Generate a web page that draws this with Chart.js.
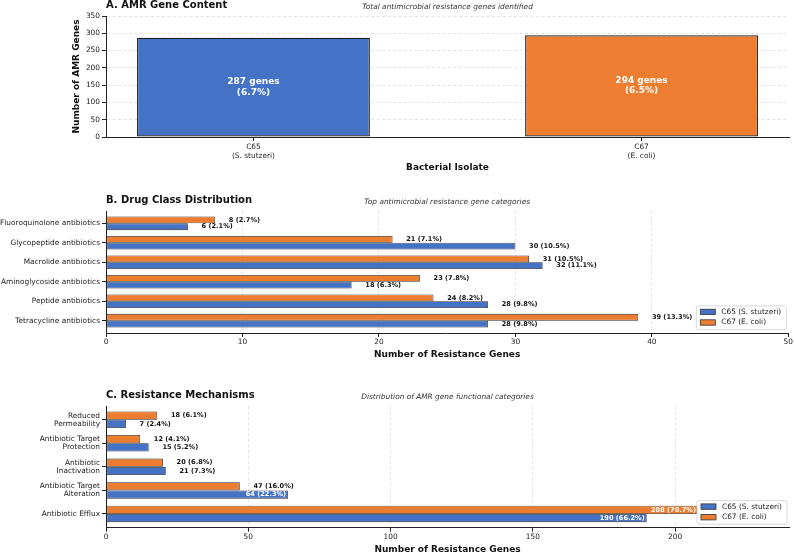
<!DOCTYPE html>
<html lang="en">
<head>
  <meta charset="UTF-8" />
  <title>AMR Gene Content, Drug Classes and Mechanisms</title>
  <style>
    html, body { margin: 0; padding: 0; background: #fff; overflow: hidden; }
    body { width: 794px; height: 554px; position: relative; }
    canvas { position: absolute; left: 0; }
    #chartA { top: 0; }
    #chartB { top: 182px; }
    #chartC { top: 372px; }
  </style>
  <script src="https://cdn.jsdelivr.net/npm/chart.js"></script>
</head>
<body>
  <canvas id="chartA" width="794" height="182"></canvas>
  <canvas id="chartB" width="794" height="190"></canvas>
  <canvas id="chartC" width="794" height="190"></canvas>

  <script>
    // ---- data ----
    const isolates = [['C65', '(S. stutzeri)'], ['C67', '(E. coli)']];
    const seriesNames = ['C65 (S. stutzeri)', 'C67 (E. coli)'];
    const totalGenes = [287, 294];
    const totalPct = [6.7, 6.5];
    const amrTicks = [0, 50, 100, 150, 200, 250, 300, 350];

    const drugClasses = [
      'Fluoroquinolone antibiotics', 'Glycopeptide antibiotics', 'Macrolide antibiotics',
      'Aminoglycoside antibiotics', 'Peptide antibiotics', 'Tetracycline antibiotics'
    ];
    const drugC65 = [6, 30, 32, 18, 28, 28];
    const drugC65Pct = [2.1, 10.5, 11.1, 6.3, 9.8, 9.8];
    const drugC67 = [8, 21, 31, 23, 24, 39];
    const drugC67Pct = [2.7, 7.1, 10.5, 7.8, 8.2, 13.3];
    const drugTicks = [0, 10, 20, 30, 40, 50];

    const mechanisms = [
      ['Reduced', 'Permeability'], ['Antibiotic Target', 'Protection'], ['Antibiotic', 'Inactivation'],
      ['Antibiotic Target', 'Alteration'], 'Antibiotic Efflux'
    ];
    const mechC65 = [7, 15, 21, 64, 190];
    const mechC65Pct = [2.4, 5.2, 7.3, 22.3, 66.2];
    const mechC67 = [18, 12, 20, 47, 208];
    const mechC67Pct = [6.1, 4.1, 6.8, 16.0, 70.7];
    const mechTicks = [0, 50, 100, 150, 200];

    const BLUE = '#4472C4', ORANGE = '#ED7D31';
    const GRID = 'rgba(0,0,0,0.11)';
    const FONT = "'DejaVu Sans', sans-serif";

    Chart.defaults.font.family = FONT;
    Chart.defaults.color = '#222';
    Chart.defaults.animation = false;
    Chart.defaults.plugins.legend.display = false;
    Chart.defaults.plugins.tooltip.enabled = false;

    // replace generated ticks with a fixed list
    const fixTicks = arr => scale => { scale.ticks = arr.map(v => ({ value: v })); };
    // no grid line on the plot's outer edge
    const gridColor = edge => c => (c.tick && c.tick.value === edge ? 'rgba(0,0,0,0)' : GRID);

    // panel title (left) and italic subtitle (centre)
    const panelTitle = {
      id: 'panelTitle',
      afterDraw(chart, args, o) {
        const { ctx, chartArea: a } = chart;
        ctx.save();
        ctx.textBaseline = 'middle';
        ctx.fillStyle = '#111';
        ctx.font = 'bold 10px ' + FONT;
        ctx.textAlign = 'left';
        ctx.fillText(o.title, a.left, a.top - 11);
        ctx.fillStyle = '#333';
        ctx.font = 'italic 7.4px ' + FONT;
        ctx.textAlign = 'center';
        ctx.fillText(o.subtitle, (a.left + a.right) / 2, a.top - 8.5);
        ctx.restore();
      }
    };

    // "287 genes (6.7%)" inside the panel A bars
    const totalLabels = {
      id: 'totalLabels',
      afterDatasetsDraw(chart) {
        const ctx = chart.ctx;
        ctx.save();
        ctx.font = 'bold 9px ' + FONT;
        ctx.fillStyle = '#fff';
        ctx.textAlign = 'center';
        ctx.textBaseline = 'middle';
        chart.getDatasetMeta(0).data.forEach((bar, i) => {
          const cy = (bar.y + bar.base) / 2;
          ctx.fillText(totalGenes[i] + ' genes', bar.x, cy - 5.2);
          ctx.fillText('(' + totalPct[i].toFixed(1) + '%)', bar.x, cy + 5.2);
        });
        ctx.restore();
      }
    };

    // "n (p%)" next to (or inside) each horizontal bar
    const hBarLabels = {
      id: 'hBarLabels',
      afterDatasetsDraw(chart, args, o) {
        const ctx = chart.ctx;
        ctx.save();
        ctx.font = 'bold 6.6px ' + FONT;
        ctx.textBaseline = 'middle';
        chart.data.datasets.forEach((ds, di) => {
          chart.getDatasetMeta(di).data.forEach((bar, i) => {
            const v = ds.data[i].x;
            const txt = v + ' (' + ds.pct[i].toFixed(1) + '%)';
            if (v > o.insideAbove) {
              ctx.fillStyle = '#fff';
              ctx.textAlign = 'right';
              ctx.fillText(txt, bar.x - 2, bar.y);
            } else {
              ctx.fillStyle = '#111';
              ctx.textAlign = 'left';
              ctx.fillText(txt, bar.x + 13.7, bar.y);
            }
          });
        });
        ctx.restore();
      }
    };

    // boxed legend in the lower right corner of the plot
    const boxLegend = {
      id: 'boxLegend',
      afterDraw(chart) {
        const { ctx, chartArea: a } = chart;
        const w = 90, h = 23.6;
        const x = a.right - w - 2, y = a.bottom - h - 3.5;
        ctx.save();
        ctx.fillStyle = 'rgba(255,255,255,0.9)';
        ctx.strokeStyle = '#d0d0d0';
        ctx.lineWidth = 0.8;
        ctx.beginPath();
        if (ctx.roundRect) ctx.roundRect(x, y, w, h, 2); else ctx.rect(x, y, w, h);
        ctx.fill();
        ctx.stroke();
        ctx.font = '7.4px ' + FONT;
        ctx.textBaseline = 'middle';
        ctx.textAlign = 'left';
        // datasets are stored C67 first (top bar), legend lists C65 first
        [...chart.data.datasets].reverse().forEach((ds, k) => {
          const cy = y + 6 + k * 10.6;
          ctx.fillStyle = ds.backgroundColor;
          ctx.fillRect(x + 4, cy - 2.7, 15, 5.4);
          ctx.strokeStyle = '#333';
          ctx.strokeRect(x + 4, cy - 2.7, 15, 5.4);
          ctx.fillStyle = '#222';
          ctx.fillText(ds.label, x + 25, cy);
        });
        ctx.restore();
      }
    };

    const tickFont = { size: 7.4 };
    const axisTitleFont = { size: 9, weight: 'bold' };

    // ---- A. AMR Gene Content ----
    new Chart(document.getElementById('chartA'), {
      type: 'bar',
      data: {
        datasets: [{
          data: totalGenes.map((v, i) => ({ x: i, y: v })),
          backgroundColor: [BLUE, ORANGE],
          borderColor: '#1a1a1a',
          borderWidth: 1.2,
          borderSkipped: false,
          categoryPercentage: 1,
          barPercentage: 0.6
        }]
      },
      options: {
        responsive: false,
        layout: { padding: { left: 0, right: 5, top: 16, bottom: 0 } },
        scales: {
          x: {
            type: 'linear', min: -0.38, max: 1.38, bounds: 'data', offset: false,
            afterBuildTicks: fixTicks([0, 1]),
            afterFit: s => { s.height = 45; },
            ticks: { callback: v => isolates[v], font: { size: 7.4, lineHeight: 1.3 }, padding: 1, maxRotation: 0, autoSkip: false },
            grid: { offset: false, drawOnChartArea: false, tickLength: 4, tickColor: '#222' },
            border: { color: '#222', width: 1 },
            title: { display: true, text: 'Bacterial Isolate', font: axisTitleFont, color: '#111', padding: { bottom: 8.6 } }
          },
          y: {
            type: 'linear', min: 0, max: 350, bounds: 'data',
            afterBuildTicks: fixTicks(amrTicks),
            afterFit: s => { s.width = 106; },
            ticks: { font: tickFont, padding: 2 },
            grid: { color: gridColor(0), tickLength: 4, tickColor: '#222', tickBorderDash: [] },
            border: { color: '#222', width: 1, dash: [3, 2.5] },
            title: { display: true, text: 'Number of AMR Genes', font: axisTitleFont, color: '#111', padding: { top: 71.6 } }
          }
        },
        plugins: {
          panelTitle: { title: 'A. AMR Gene Content', subtitle: 'Total antimicrobial resistance genes identified' }
        }
      },
      plugins: [panelTitle, totalLabels]
    });

    // ---- B and C: grouped horizontal bars ----
    function hBarChart(id, cfg) {
      return new Chart(document.getElementById(id), {
        type: 'bar',
        data: {
          datasets: [
            {
              label: seriesNames[1], pct: cfg.c67Pct,
              data: cfg.c67.map((v, i) => ({ x: v, y: i })),
              backgroundColor: ORANGE
            },
            {
              label: seriesNames[0], pct: cfg.c65Pct,
              data: cfg.c65.map((v, i) => ({ x: v, y: i })),
              backgroundColor: BLUE
            }
          ].map(ds => Object.assign(ds, {
            borderColor: '#2a2a2a', borderWidth: 0.8, borderSkipped: false,
            categoryPercentage: 0.7, barPercentage: 1
          }))
        },
        options: {
          responsive: false,
          indexAxis: 'y',
          layout: { padding: { left: 0, right: 5, top: cfg.top, bottom: 0 } },
          scales: {
            x: {
              type: 'linear', min: 0, max: cfg.xmax, bounds: 'data', offset: false,
              afterBuildTicks: fixTicks(cfg.ticks),
              afterFit: s => { s.height = cfg.axisH; },
              ticks: { font: tickFont, padding: 1, maxRotation: 0 },
              grid: { offset: false, color: gridColor(cfg.xmax), tickLength: 4, tickColor: '#222', tickBorderDash: [] },
              border: { color: '#222', width: 1, dash: [3, 2.5] },
              title: { display: true, text: 'Number of Resistance Genes', font: axisTitleFont, color: '#111', padding: { bottom: cfg.titlePad } }
            },
            y: {
              type: 'linear', reverse: true, min: cfg.ymin, max: cfg.ymax, bounds: 'data', offset: false,
              afterBuildTicks: fixTicks(cfg.cats.map((c, i) => i)),
              afterFit: s => { s.width = 106; },
              ticks: { callback: v => cfg.cats[v], font: { size: 7.4, lineHeight: 1.12 }, padding: 2, autoSkip: false },
              grid: { offset: false, drawOnChartArea: false, tickLength: 4, tickColor: '#222' },
              border: { color: '#222', width: 1 }
            }
          },
          plugins: {
            panelTitle: { title: cfg.title, subtitle: cfg.subtitle },
            hBarLabels: { insideAbove: cfg.insideAbove }
          }
        },
        plugins: [panelTitle, hBarLabels, boxLegend]
      });
    }

    hBarChart('chartB', {
      cats: drugClasses, c65: drugC65, c65Pct: drugC65Pct, c67: drugC67, c67Pct: drugC67Pct,
      ticks: drugTicks, xmax: 50, ymin: -0.635, ymax: 5.635,
      top: 29, axisH: 39, titlePad: 11.6, insideAbove: Infinity,
      title: 'B. Drug Class Distribution',
      subtitle: 'Top antimicrobial resistance gene categories'
    });

    hBarChart('chartC', {
      cats: mechanisms, c65: mechC65, c65Pct: mechC65Pct, c67: mechC67, c67Pct: mechC67Pct,
      ticks: mechTicks, xmax: 240, ymin: -0.585, ymax: 4.585,
      top: 34, axisH: 34.3, titlePad: 6.6, insideAbove: 60,
      title: 'C. Resistance Mechanisms',
      subtitle: 'Distribution of AMR gene functional categories'
    });
  </script>
</body>
</html>
